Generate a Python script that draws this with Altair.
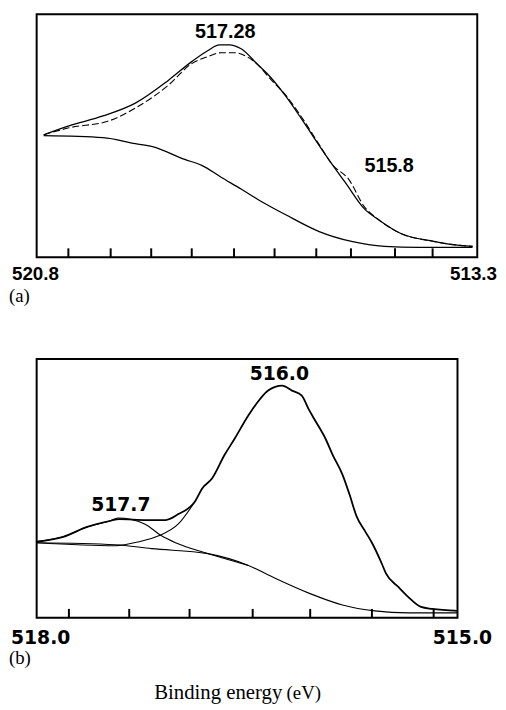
import altair as alt
import pandas as pd

# ---------------- Panel (a) data ----------------
a_env_x = [520.68, 520.25, 519.67, 519.12, 518.56, 518.16, 517.89, 517.69, 517.52, 517.32,
           517.02, 516.83, 516.56, 516.28, 515.99, 515.77, 515.55, 515.22, 514.98, 514.60,
           514.04, 513.75, 513.38]
a_env_y = [124, 133, 143, 156, 179, 198, 209, 215, 215, 211,
           194, 183, 163, 139, 113, 94, 76, 49, 38, 24,
           16, 13, 11]
a_fit_x = [520.68, 520.25, 519.57, 519.12, 518.56, 518.16, 517.89, 517.66, 517.44, 517.22,
           517.02, 516.83, 516.56, 516.28, 515.99, 515.77, 515.49, 515.22, 514.98, 514.60,
           514.04, 513.75, 513.38]
a_fit_y = [124, 131, 138, 151, 174, 196, 203, 207, 207, 203,
           194, 181, 164, 141, 114, 94, 79, 51, 38, 24,
           16, 13, 11]
a_bg_x = [520.68, 519.67, 519.12, 518.83, 518.28, 517.99, 517.66, 517.32, 517.02, 516.56,
          515.99, 515.44, 514.88, 514.31, 513.38]
a_bg_y = [123, 121, 115, 112, 99, 93, 81, 69, 58, 43,
          26, 16, 11, 10, 10]
a_ticks = [520.26, 519.54, 518.85, 518.16, 517.44, 516.75, 516.04, 515.45, 514.70, 514.06]
a_peaks = ["517.28", "515.8"]
a_peak_x = [517.59, 514.80]
a_peak_y = [228, 92]
a_ends = ["520.8", "513.3"]

# ---------------- Panel (b) data ----------------
b_env_x = [518.00, 517.81, 517.64, 517.48, 517.41, 517.22, 517.08, 516.99, 516.87, 516.82,
           516.75, 516.66, 516.59, 516.49, 516.41, 516.35, 516.25, 516.18, 516.11, 516.06,
           516.02, 515.94, 515.89, 515.82, 515.77, 515.72, 515.66, 515.61, 515.54, 515.51,
           515.42, 515.35, 515.26, 515.18, 515.00]
b_env_y = [77, 82, 92, 98, 100, 99, 99, 105, 118, 131,
           141, 165, 181, 205, 221, 230, 235, 230, 225, 211,
           201, 181, 165, 145, 125, 103, 88, 76, 55, 45,
           31, 21, 11, 9, 7]
b_c1_x = [518.00, 517.81, 517.64, 517.48, 517.42, 517.23, 517.11, 517.01, 516.78, 516.49]
b_c1_y = [77, 82, 92, 98, 101, 95, 83, 76, 65, 53]
b_c2_x = [518.00, 517.44, 517.27, 517.13, 516.99, 516.87]
b_c2_y = [76, 73, 77, 83, 95, 118]
b_bg_x = [518.00, 517.44, 517.18, 516.78, 516.49, 516.30, 516.06, 515.82, 515.59, 515.35, 515.00]
b_bg_y = [76, 74, 70, 65, 53, 40, 25, 13, 7, 5, 5]
b_ticks = [517.77, 517.34, 516.91, 516.46, 516.05, 515.61, 515.17]
b_peaks = ["516.0", "517.7"]
b_peak_x = [516.27, 517.40]
b_peak_y = [247, 114]
b_ends = ["518.0", "515.0"]

WA, HA = 446, 246
WB, HB = 426, 262


def line_layer(xs, ys, xsc, ysc, width=1.2, dash=None):
    df = pd.DataFrame({"x": xs, "y": ys, "o": list(range(len(xs)))})
    kw = dict(color="black", strokeWidth=width, interpolate="monotone")
    if dash:
        kw["strokeDash"] = dash
    return alt.Chart(df).mark_line(**kw).encode(
        x=alt.X("x:Q", scale=xsc, axis=None),
        y=alt.Y("y:Q", scale=ysc, axis=None),
        order="o:Q",
    )


def ticks_layer(vals, xsc, h):
    df = pd.DataFrame({"x": vals})
    return alt.Chart(df).mark_rule(color="black", strokeWidth=2).encode(
        x=alt.X("x:Q", scale=xsc, axis=None),
        y=alt.value(h),
        y2=alt.value(h - 9),
    )


def text_at(label, xval, xsc, ypix, font, size, weight="normal", align="center", dx=0):
    df = pd.DataFrame({"x": [xval], "t": [label]})
    return alt.Chart(df).mark_text(
        font=font, fontSize=size, fontWeight=weight, align=align, dx=dx,
        baseline="alphabetic", color="black",
    ).encode(x=alt.X("x:Q", scale=xsc, axis=None), y=alt.value(ypix), text="t:N")


def peaks_layer(labels, xs, ys, xsc, ysc, font, size):
    df = pd.DataFrame({"x": xs, "y": ys, "t": labels})
    return alt.Chart(df).mark_text(
        font=font, fontSize=size, fontWeight="bold", baseline="middle", color="black",
    ).encode(
        x=alt.X("x:Q", scale=xsc, axis=None),
        y=alt.Y("y:Q", scale=ysc, axis=None),
        text="t:N",
    )


def free_text(label, xpix, ypix, font, size, align="left"):
    df = pd.DataFrame({"t": [label]})
    return alt.Chart(df).mark_text(
        font=font, fontSize=size, align=align, baseline="alphabetic", color="black",
    ).encode(x=alt.value(xpix), y=alt.value(ypix), text="t:N")


# ---------- Panel (a) ----------
xa = alt.Scale(domain=[513.3, 520.8], reverse=True, nice=False, zero=False)
ya = alt.Scale(domain=[0, HA], nice=False, zero=True)
panel_a = alt.layer(
    line_layer(a_env_x, a_env_y, xa, ya, 1.3),
    line_layer(a_fit_x, a_fit_y, xa, ya, 1.1, [7, 3]),
    line_layer(a_bg_x, a_bg_y, xa, ya, 1.3),
    ticks_layer(a_ticks, xa, HA),
    peaks_layer(a_peaks, a_peak_x, a_peak_y, xa, ya, "Liberation Sans", 20),
    text_at(a_ends[0], 520.8, xa, HA + 23, "Liberation Sans", 19, "bold", "left", -25),
    text_at(a_ends[1], 513.3, xa, HA + 23, "Liberation Sans", 19, "bold", "right", 20),
    free_text("(a)", -28, HA + 45, "Liberation Serif", 19),
).properties(width=WA, height=HA)

# ---------- Panel (b) ----------
xb = alt.Scale(domain=[515.0, 518.0], reverse=True, nice=False, zero=False)
yb = alt.Scale(domain=[0, HB], nice=False, zero=True)
panel_b = alt.layer(
    line_layer(b_bg_x, b_bg_y, xb, yb, 1.1),
    line_layer(b_c1_x, b_c1_y, xb, yb, 1.1),
    line_layer(b_c2_x, b_c2_y, xb, yb, 1.1),
    line_layer(b_env_x, b_env_y, xb, yb, 1.8),
    ticks_layer(b_ticks, xb, HB),
    peaks_layer(b_peaks, b_peak_x, b_peak_y, xb, yb, "DejaVu Sans", 19),
    text_at(b_ends[0], 518.0, xb, HB + 27, "DejaVu Sans", 19, "bold", "left", -26),
    text_at(b_ends[1], 515.0, xb, HB + 27, "DejaVu Sans", 19, "bold", "right", 35),
    free_text("(b)", -28, HB + 47, "Liberation Serif", 19),
    free_text("Binding energy", 119, HB + 82, "Liberation Serif", 21),
    free_text("(eV)", 253, HB + 82, "Liberation Serif", 19),
).properties(width=WB, height=HB)

chart = alt.vconcat(panel_a, panel_b, spacing=52).properties(
    padding={"left": 0, "top": 1, "right": 0, "bottom": 0},
    background="white",
).configure_view(stroke="black", strokeWidth=2)

chart.save("out.html", embed_options={"renderer": "svg", "actions": False})
